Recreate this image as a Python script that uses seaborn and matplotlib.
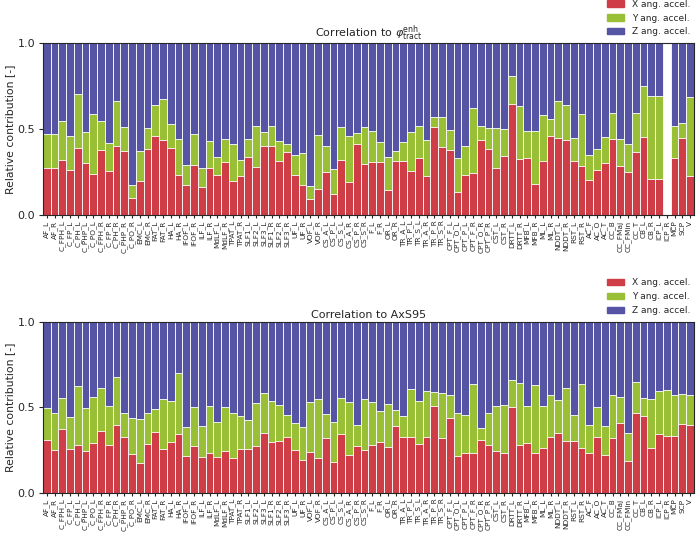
import numpy as np
import pandas as pd
import matplotlib
matplotlib.use("Agg")
import matplotlib.pyplot as plt
import seaborn as sns

tracts = ["AF_L", "AF_R", "C_FPH_L", "C_FP_L", "C_PH_L", "C_PHP_L", "C_PO_L",
          "C_FPH_R", "C_FP_R", "C_PH_R", "C_PHP_R", "C_PO_R", "EMC_L", "EMC_R",
          "FAT_L", "FAT_R", "HA_L", "HA_R", "IFOF_L", "IFOF_R", "ILF_L", "ILF_R",
          "MdLF_L", "MdLF_R", "TPAT_L", "TPAT_R", "SLF1_L", "SLF2_L", "SLF3_L",
          "SLF1_R", "SLF2_R", "SLF3_R", "UF_L", "UF_R", "VOF_L", "VOF_R",
          "CS_A_L", "CS_P_L", "CS_S_L", "CS_A_R", "CS_P_R", "CS_S_R", "F_L", "F_R",
          "OR_L", "OR_R", "TR_A_L", "TR_P_L", "TR_S_L", "TR_A_R", "TR_P_R", "TR_S_R",
          "CPT_F_L", "CPT_O_L", "CPT_P_L", "CPT_F_R", "CPT_O_R", "CPT_P_R",
          "CST_L", "CST_R", "DRTT_L", "DRTT_R", "MFB_L", "MFB_R", "ML_L", "ML_R",
          "NDDT_L", "NDDT_R", "RST_L", "RST_R", "AC_F", "AC_O", "AC_T", "CC_B",
          "CC_FMaj", "CC_FMin", "CC_T", "CB_L", "CB_R", "ICP_L", "ICP_R", "MCP",
          "SCP", "V"]

# top panel (phi enh tract): X share and X+Y cumulative share
phi_x = [0.271, 0.271, 0.322, 0.263, 0.390, 0.304, 0.240, 0.378, 0.255, 0.400,
         0.372, 0.101, 0.195, 0.386, 0.462, 0.439, 0.392, 0.232, 0.175, 0.292,
         0.160, 0.271, 0.230, 0.310, 0.195, 0.228, 0.337, 0.277, 0.404, 0.404,
         0.312, 0.368, 0.230, 0.172, 0.092, 0.152, 0.248, 0.121, 0.320, 0.193,
         0.411, 0.294, 0.310, 0.310, 0.146, 0.312, 0.316, 0.253, 0.329, 0.228,
         0.509, 0.398, 0.376, 0.135, 0.230, 0.246, 0.439, 0.382, 0.271, 0.343,
         0.645, 0.326, 0.331, 0.181, 0.312, 0.462, 0.448, 0.439, 0.316, 0.287,
         0.201, 0.263, 0.304, 0.442, 0.285, 0.251, 0.368, 0.452, 0.207, 0.207,
         np.nan, 0.329, 0.446, 0.224]
phi_xy = [0.472, 0.470, 0.544, 0.458, 0.706, 0.480, 0.585, 0.546, 0.421, 0.665,
          0.509, 0.175, 0.374, 0.503, 0.641, 0.676, 0.528, 0.441, 0.292, 0.470,
          0.275, 0.433, 0.339, 0.442, 0.413, 0.318, 0.442, 0.515, 0.485, 0.515,
          0.431, 0.413, 0.351, 0.359, 0.170, 0.468, 0.402, 0.265, 0.509, 0.460,
          0.476, 0.509, 0.491, 0.423, 0.339, 0.372, 0.427, 0.480, 0.515, 0.435,
          0.567, 0.567, 0.493, 0.331, 0.400, 0.624, 0.517, 0.503, 0.503, 0.499,
          0.807, 0.635, 0.491, 0.491, 0.579, 0.561, 0.661, 0.639, 0.448, 0.587,
          0.351, 0.386, 0.452, 0.596, 0.442, 0.415, 0.593, 0.750, 0.690, 0.690,
          np.nan, 0.515, 0.534, 0.686]

# bottom panel (AxS95)
axs_x = [0.310, 0.251, 0.374, 0.255, 0.283, 0.248, 0.294, 0.365, 0.281, 0.396,
         0.329, 0.230, 0.173, 0.288, 0.357, 0.259, 0.300, 0.347, 0.218, 0.277,
         0.209, 0.236, 0.209, 0.248, 0.207, 0.259, 0.259, 0.277, 0.349, 0.298,
         0.304, 0.327, 0.250, 0.193, 0.242, 0.207, 0.320, 0.179, 0.343, 0.224,
         0.275, 0.251, 0.283, 0.300, 0.267, 0.392, 0.329, 0.329, 0.288, 0.326,
         0.509, 0.324, 0.437, 0.218, 0.234, 0.234, 0.310, 0.281, 0.244, 0.234,
         0.501, 0.281, 0.294, 0.234, 0.261, 0.327, 0.351, 0.306, 0.306, 0.265,
         0.234, 0.326, 0.224, 0.322, 0.411, 0.189, 0.466, 0.452, 0.261, 0.347,
         0.335, 0.335, 0.404, 0.396]
axs_xy = [0.499, 0.466, 0.557, 0.442, 0.628, 0.497, 0.563, 0.616, 0.507, 0.680,
          0.470, 0.437, 0.431, 0.470, 0.489, 0.548, 0.540, 0.700, 0.384, 0.503,
          0.392, 0.509, 0.413, 0.505, 0.470, 0.450, 0.429, 0.528, 0.587, 0.536,
          0.517, 0.458, 0.407, 0.386, 0.530, 0.550, 0.464, 0.413, 0.557, 0.534,
          0.398, 0.548, 0.530, 0.478, 0.522, 0.487, 0.450, 0.610, 0.540, 0.598,
          0.591, 0.585, 0.575, 0.470, 0.458, 0.635, 0.380, 0.470, 0.507, 0.517,
          0.659, 0.645, 0.507, 0.632, 0.511, 0.571, 0.542, 0.612, 0.456, 0.637,
          0.398, 0.503, 0.394, 0.571, 0.563, 0.351, 0.651, 0.556, 0.548, 0.595,
          0.604, 0.575, 0.579, 0.571]

phi_total = [np.nan if np.isnan(v) else 1.0 for v in phi_x]
axs_total = [1.0] * len(tracts)

titles = [r"Correlation to $\varphi^{\rm enh}_{\rm tract}$", "Correlation to AxS95"]
series_names = ["X ang. accel.", "Y ang. accel.", "Z ang. accel."]
colors = ["#cf3d47", "#98bf36", "#5655a5"]

sns.set_style("ticks")
plt.rcParams["font.family"] = ["DejaVu Sans"]

fig = plt.figure(figsize=(6.99, 5.33), dpi=100)
ax_top = fig.add_axes([0.0615, 0.5966, 0.9313, 0.3227])
ax_bot = fig.add_axes([0.0615, 0.0750, 0.9313, 0.3210])

panels = [(ax_top, phi_x, phi_xy, phi_total), (ax_bot, axs_x, axs_xy, axs_total)]
for i, (ax, xs, xys, tot) in enumerate(panels):
    df = pd.DataFrame({"tract": tracts, "x": xs, "xy": xys, "tot": tot})
    for col, c in zip(["tot", "xy", "x"], colors[::-1]):
        sns.barplot(data=df, x="tract", y=col, order=tracts, color=c, ax=ax,
                    width=1.0, edgecolor="white", linewidth=0.6, errorbar=None,
                    saturation=1)
    ax.set_xlim(-0.5, len(tracts) - 0.5)
    ax.set_ylim(0, 1)
    ax.set_yticks([0.0, 0.5, 1.0])
    ax.set_xlabel("")
    ax.set_ylabel("Relative contribution [-]", fontsize=7.8, labelpad=2)
    ax.set_title(titles[i], fontsize=8, pad=3)
    ax.tick_params(axis="x", labelrotation=90, labelsize=5.3, length=2.5, pad=1.5)
    ax.tick_params(axis="y", labelsize=8, length=3, pad=2.5)
    handles = [plt.Rectangle((0, 0), 1, 1, color=c) for c in colors]
    ax.legend(handles, series_names, loc="lower right", bbox_to_anchor=(1.0, 1.017),
              frameon=False, fontsize=6.5, borderaxespad=0, handlelength=1.9,
              handleheight=0.7, labelspacing=0.55, handletextpad=0.9)

fig.savefig("out.png", dpi=100)
